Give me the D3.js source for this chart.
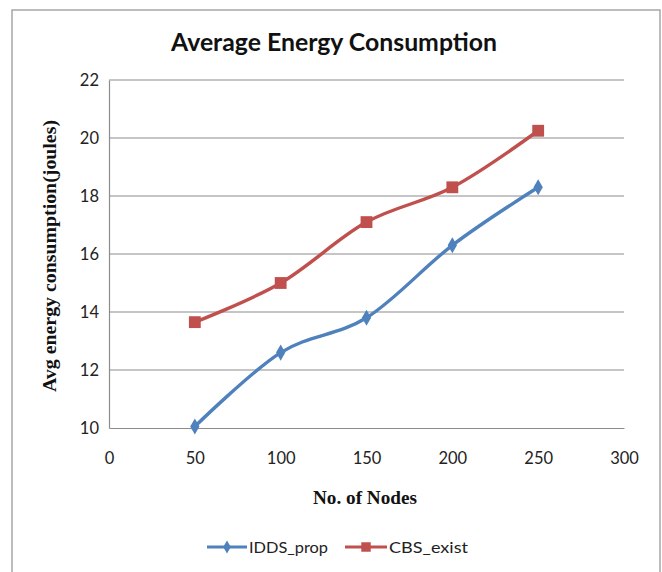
<!DOCTYPE html>
<html>
<head>
<meta charset="utf-8">
<script src="https://cdn.jsdelivr.net/npm/d3@7"></script>
<style>
  html, body { margin: 0; padding: 0; background: #fff; }
  svg { display: block; }
</style>
</head>
<body>
<svg id="chart" width="662" height="572"></svg>
<script>
// Number of nodes on the x axis
const nodes = [50, 100, 150, 200, 250];
// Average energy consumption (joules) per scheme
const iddsProp = [10.05, 12.6, 13.8, 16.3, 18.3];
const cbsExist = [13.65, 15.0, 17.1, 18.3, 20.25];
const xTicks = [0, 50, 100, 150, 200, 250, 300];
const yTicks = [10, 12, 14, 16, 18, 20, 22];

const series = [
  { name: "IDDS_prop", values: iddsProp, color: "#4F81BD", symbol: d3.symbolDiamond, size: 75 },
  { name: "CBS_exist", values: cbsExist, color: "#C0504D", symbol: d3.symbolSquare, size: 140 }
];

const svg = d3.select("#chart");
const sans = "Lato, 'Open Sans', sans-serif";
const serif = "'Liberation Serif', 'DejaVu Serif', serif";

// Outer chart frame
svg.append("rect")
  .attr("x", 12).attr("y", 10).attr("width", 648).attr("height", 590)
  .attr("fill", "#fff").attr("stroke", "#a6a6a6").attr("stroke-width", 1.5);

const plot = { left: 109, right: 624, top: 80, bottom: 428 };

const x = d3.scaleLinear().domain([0, 300]).range([plot.left, plot.right]);
const y = d3.scaleLinear().domain([10, 22]).range([plot.bottom, plot.top]);

// Title
svg.append("text")
  .attr("x", 334).attr("y", 51)
  .attr("text-anchor", "middle")
  .attr("font-family", sans).attr("font-weight", "bold")
  .attr("font-size", 24).attr("fill", "#111")
  .attr("textLength", 326).attr("lengthAdjust", "spacingAndGlyphs")
  .text("Average Energy Consumption");

// Horizontal gridlines
svg.append("g")
  .selectAll("line")
  .data(yTicks.slice(1))
  .join("line")
  .attr("x1", plot.left).attr("x2", plot.right)
  .attr("y1", d => y(d)).attr("y2", d => y(d))
  .attr("stroke", "#8c8c8c").attr("stroke-width", 1.2);

// Y axis
const yAxis = svg.append("g")
  .attr("transform", `translate(${plot.left},0)`)
  .call(d3.axisLeft(y).tickValues(yTicks).tickSize(0).tickPadding(10));
yAxis.select(".domain").attr("stroke", "#8c8c8c").attr("stroke-width", 1.2);
yAxis.selectAll("text")
  .attr("font-family", sans).attr("font-size", 16.5).attr("fill", "#222");

// X axis
const xAxis = svg.append("g")
  .attr("transform", `translate(0,${plot.bottom})`)
  .call(d3.axisBottom(x).tickValues(xTicks).tickSize(0).tickPadding(24));
xAxis.select(".domain").attr("stroke", "#8c8c8c").attr("stroke-width", 1.2);
xAxis.selectAll("text")
  .attr("font-family", sans).attr("font-size", 16.5).attr("fill", "#222");

// Axis titles
svg.append("text")
  .attr("transform", "translate(50,256) rotate(-90)")
  .attr("text-anchor", "middle")
  .attr("dy", "0.35em")
  .attr("font-family", serif).attr("font-weight", "bold")
  .attr("font-size", 18).attr("fill", "#111")
  .attr("textLength", 272).attr("lengthAdjust", "spacingAndGlyphs")
  .text("Avg energy consumption(joules)");

svg.append("text")
  .attr("x", 365).attr("y", 498)
  .attr("dy", "0.35em")
  .attr("text-anchor", "middle")
  .attr("font-family", serif).attr("font-weight", "bold")
  .attr("font-size", 18).attr("fill", "#111")
  .attr("textLength", 104).attr("lengthAdjust", "spacingAndGlyphs")
  .text("No. of Nodes");

// Smoothed series lines with markers
const line = d3.line()
  .x((d, i) => x(nodes[i]))
  .y(d => y(d))
  .curve(d3.curveCatmullRom.alpha(0));

series.forEach(s => {
  const g = svg.append("g");
  g.append("path")
    .datum(s.values)
    .attr("d", line)
    .attr("fill", "none")
    .attr("stroke", s.color)
    .attr("stroke-width", 3.4)
    .attr("stroke-linejoin", "round");
  g.selectAll("path.marker")
    .data(s.values)
    .join("path")
    .attr("class", "marker")
    .attr("transform", (d, i) => `translate(${x(nodes[i])},${y(d)})`)
    .attr("d", d3.symbol().type(s.symbol).size(s.size))
    .attr("fill", s.color);
});

// Legend
const legendItems = [
  { s: series[0], x0: 207, x1: 247, tx: 249, size: 50 },
  { s: series[1], x0: 345, x1: 387, tx: 389, size: 90 }
];
const legend = svg.append("g");
legendItems.forEach(it => {
  const ly = 547;
  legend.append("line")
    .attr("x1", it.x0).attr("x2", it.x1)
    .attr("y1", ly).attr("y2", ly)
    .attr("stroke", it.s.color).attr("stroke-width", 3);
  legend.append("path")
    .attr("transform", `translate(${(it.x0 + it.x1) / 2},${ly})`)
    .attr("d", d3.symbol().type(it.s.symbol).size(it.size))
    .attr("fill", it.s.color);
  legend.append("text")
    .attr("x", it.tx).attr("y", ly)
    .attr("dy", "0.35em")
    .attr("font-family", sans).attr("font-size", 16).attr("fill", "#222")
    .attr("textLength", 79).attr("lengthAdjust", "spacingAndGlyphs")
    .text(it.s.name);
});
</script>
</body>
</html>
